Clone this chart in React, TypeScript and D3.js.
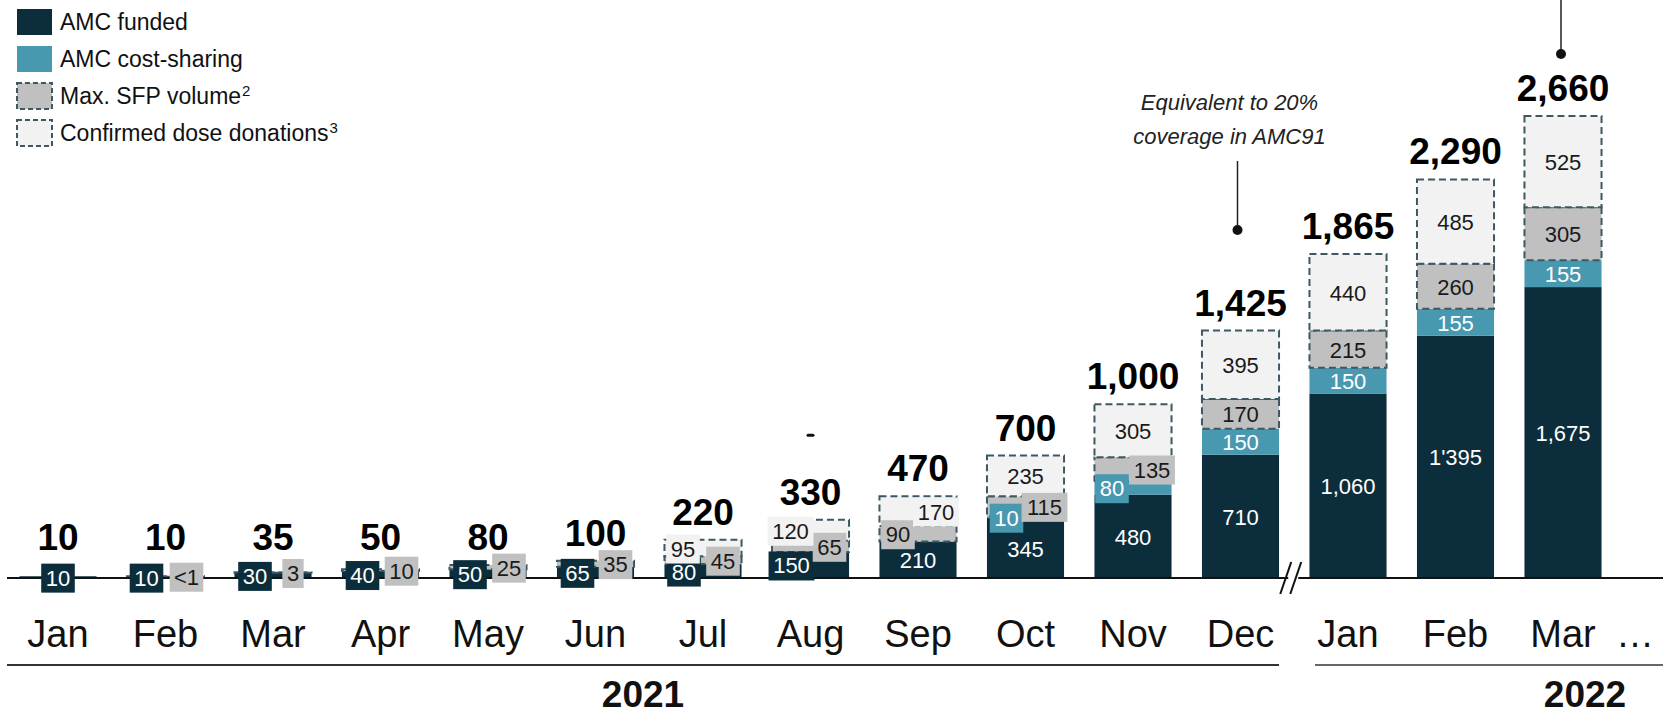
import React from 'react';
import * as d3 from 'd3';

// monthly volumes (m doses), 2021 Jan .. 2022 Mar
const months = ['Jan', 'Feb', 'Mar', 'Apr', 'May', 'Jun', 'Jul', 'Aug', 'Sep', 'Oct', 'Nov', 'Dec', 'Jan', 'Feb', 'Mar'];
const funded = [10, 10, 30, 40, 50, 65, 80, 150, 210, 345, 480, 710, 1060, 1395, 1675];
const costSharing = [0, 0, 0, 0, 0, 0, 0, 0, 0, 10, 80, 150, 150, 155, 155];
const sfpVolume = [0, 0.5, 3, 10, 25, 35, 45, 65, 90, 115, 135, 170, 215, 260, 305];
const donations = [0, 0, 0, 0, 0, 0, 95, 120, 170, 235, 305, 395, 440, 485, 525];

const fundedLabels = ['10', '10', '30', '40', '50', '65', '80', '150', '210', '345', '480', '710', '1,060', "1'395", '1,675'];
const costLabels = ['', '', '', '', '', '', '', '', '', '10', '80', '150', '150', '155', '155'];
const sfpLabels = ['', '<1', '3', '10', '25', '35', '45', '65', '90', '115', '135', '170', '215', '260', '305'];
const donationLabels = ['', '', '', '', '', '', '95', '120', '170', '235', '305', '395', '440', '485', '525'];
const totalLabels = ['10', '10', '35', '50', '80', '100', '220', '330', '470', '700', '1,000', '1,425', '1,865', '2,290', '2,660'];

const years = ['2021', '2022'];
const legendNames = ['AMC funded', 'AMC cost-sharing', 'Max. SFP volume', 'Confirmed dose donations'];
const legendSup = ['', '', '2', '3'];
const noteLines = ['Equivalent to 20%', 'coverage in AMC91'];

// sideways nudges of the small-segment labels
const shiftFunded = [0, -19, -18, -18, -18, -18, -19, -19, 0, 0, 0, 0, 0, 0, 0];
const shiftCost = [0, 0, 0, 0, 0, 0, 0, 0, 0, -19, -21, 0, 0, 0, 0];
const shiftSfp = [0, 21, 20, 21, 21, 20, 20, 19, -20, 19, 19, 0, 0, 0, 0];
const shiftDon = [0, 0, 0, 0, 0, 0, -20, -20, 18, 0, 0, 0, 0, 0, 0];

const W = 1663, H = 712;
const FONT = '"Liberation Sans", Arial, sans-serif';
const C_DARK = '#0c2e3c', C_TEAL = '#4898b0', C_GREY = '#c0c0c0', C_LIGHT = '#f2f2f2', C_DASH = '#3e5862';

const series = [
  { key: 'funded', vals: funded, labels: fundedLabels, shift: shiftFunded, fill: C_DARK, text: '#ffffff', dashed: false },
  { key: 'cost', vals: costSharing, labels: costLabels, shift: shiftCost, fill: C_TEAL, text: '#ffffff', dashed: false },
  { key: 'sfp', vals: sfpVolume, labels: sfpLabels, shift: shiftSfp, fill: C_GREY, text: '#1a1a1a', dashed: true },
  { key: 'don', vals: donations, labels: donationLabels, shift: shiftDon, fill: C_LIGHT, text: '#1a1a1a', dashed: true },
];

const App = () => {
  const rows = months.map((m, i) => {
    const r: any = { i };
    series.forEach(s => { r[s.key] = s.vals[i]; });
    return r;
  });
  const stacked = d3.stack().keys(series.map(s => s.key))(rows);
  const totals = rows.map(r => series.reduce((a, s) => a + r[s.key], 0));

  const baseY = 578;
  const x = d3.scalePoint<number>().domain(d3.range(months.length)).range([58, 1563]);
  const bw = x.step() * 0.717;
  const y = d3.scaleLinear().domain([0, d3.max(totals) as number]).range([baseY, 116]);

  const breakX = ((x(11) as number) + (x(12) as number)) / 2;

  return (
    <svg width={W} height={H} style={{ position: 'absolute', left: 0, top: 0, background: '#fff' }} fontFamily={FONT}>
      {/* legend */}
      {legendNames.map((name, i) => (
        <g key={name} transform={`translate(17,${9 + i * 37})`}>
          <rect x={0} y={0} width={35} height={26} fill={series[i].fill}
            stroke={series[i].dashed ? C_DASH : 'none'} strokeWidth={2} strokeDasharray="5 3" />
          <text x={43} y={21} fontSize={23} fill="#111">
            {name}
            {legendSup[i] && <tspan fontSize={15} dy={-8} dx={1}>{legendSup[i]}</tspan>}
          </text>
        </g>
      ))}

      {/* bars */}
      {stacked.map((layer, si) => (
        <g key={layer.key}>
          {layer.map((d, i) => {
            if (series[si].vals[i] <= 0) return null;
            const cx = x(i) as number;
            return (
              <rect key={i} x={cx - bw / 2} y={y(d[1])} width={bw} height={Math.max(0.5, y(d[0]) - y(d[1]))}
                fill={series[si].fill} stroke={series[si].dashed ? C_DASH : 'none'} strokeWidth={2} strokeDasharray="7 4" />
            );
          })}
        </g>
      ))}

      {/* baseline and break */}
      <line x1={7} x2={W} y1={baseY} y2={baseY} stroke="#111" strokeWidth={2} />
      <rect x={breakX - 6} y={baseY - 3} width={10} height={6} fill="#fff" />
      <line x1={breakX - 14} y1={baseY + 16} x2={breakX - 3} y2={baseY - 16} stroke="#111" strokeWidth={2} />
      <line x1={breakX - 4} y1={baseY + 16} x2={breakX + 7} y2={baseY - 16} stroke="#111" strokeWidth={2} />

      {/* segment labels */}
      {stacked.map((layer, si) => (
        <g key={'lab' + layer.key}>
          {layer.map((d, i) => {
            const s = series[si];
            if (!s.labels[i]) return null;
            const cx = (x(i) as number) + s.shift[i];
            const mid = (y(d[0]) + y(d[1])) / 2 + 1;
            const h = y(d[0]) - y(d[1]);
            const boxed = s.shift[i] !== 0 || h < 20;
            const tw = s.labels[i].length * 12.3 + 9;
            return (
              <g key={i}>
                {boxed && <rect x={cx - tw / 2} y={mid - 14.5} width={tw} height={29} fill={s.fill} />}
                <text x={cx} y={mid} textAnchor="middle" dominantBaseline="central" fontSize={22} fill={s.text}>
                  {s.labels[i]}
                </text>
              </g>
            );
          })}
        </g>
      ))}

      {/* totals */}
      {totals.map((t, i) => (
        <text key={i} x={x(i) as number} y={Math.min(y(t) - 15, 550)} textAnchor="middle"
          fontSize={37} fontWeight="bold" fill="#000">{totalLabels[i]}</text>
      ))}

      {/* month axis */}
      {months.map((m, i) => (
        <text key={i} x={x(i) as number} y={647} textAnchor="middle" fontSize={38} fill="#111">{m}</text>
      ))}
      <text x={(x(14) as number) + 72} y={647} textAnchor="middle" fontSize={38} fill="#111">…</text>

      {/* year brackets */}
      <line x1={7} x2={(x(11) as number) + bw / 2} y1={665} y2={665} stroke="#333" strokeWidth={2} />
      <line x1={(x(12) as number) - 33} x2={W} y1={665} y2={665} stroke="#666" strokeWidth={2} />
      <text x={((x(11) as number) + bw / 2 + 7) / 2} y={707} textAnchor="middle" fontSize={37} fontWeight="bold" fill="#111">{years[0]}</text>
      <text x={(x(14) as number) + 22} y={707} textAnchor="middle" fontSize={37} fontWeight="bold" fill="#111">{years[1]}</text>

      {/* annotations */}
      {noteLines.map((t, i) => (
        <text key={t} x={(x(11) as number) - 11} y={110 + i * 34} textAnchor="middle" fontSize={22}
          fontStyle="italic" fill="#222">{t}</text>
      ))}
      <line x1={(x(11) as number) - 3} x2={(x(11) as number) - 3} y1={161} y2={230} stroke="#222" strokeWidth={1.5} />
      <circle cx={(x(11) as number) - 3} cy={230} r={5} fill="#111" />
      <line x1={(x(14) as number) - 2} x2={(x(14) as number) - 2} y1={0} y2={54} stroke="#222" strokeWidth={1.5} />
      <circle cx={(x(14) as number) - 2} cy={54} r={5} fill="#111" />
      <rect x={(x(7) as number) - 4} y={y(totals[7]) - 86} width={8} height={3} rx={1.5} fill="#111" />
    </svg>
  );
};

export default App;
